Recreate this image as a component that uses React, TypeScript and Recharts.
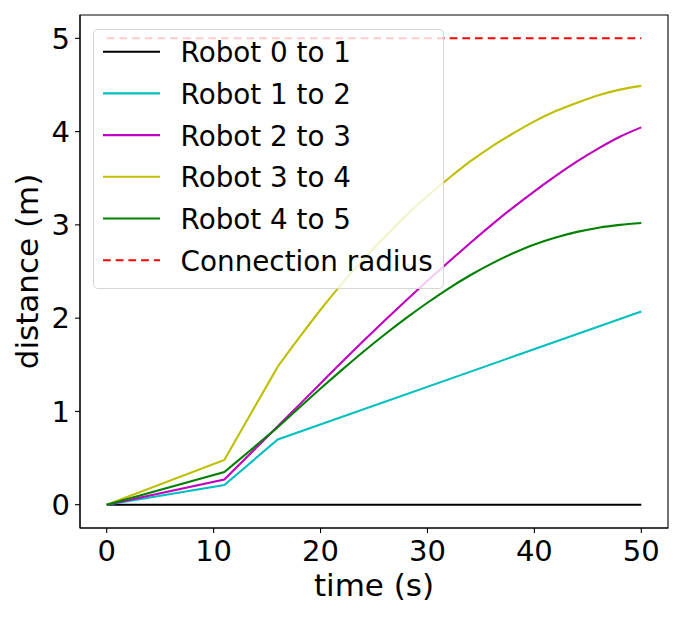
import { Legend, Line, LineChart, ReferenceArea, XAxis, YAxis } from "recharts";

// matplotlib single-letter colours: k, c, m, y, g, r
const FONT = "DejaVu Sans";

// straight ramp up to t=16, then a smooth curve out to t=50
const TIME_RAMP = [0, 11, 16];
const TIME_CURVE = [16, 18, 20, 22, 24, 26, 28, 30, 32, 34, 36, 38, 40, 42, 44, 46, 48, 50];

const DIST_2_3_RAMP = [0, 0.27, 0.84];
const DIST_2_3_CURVE = [0.84, 1.07, 1.3, 1.53, 1.755, 1.975, 2.19, 2.4, 2.605, 2.805, 3.0, 3.185, 3.36, 3.525, 3.68, 3.82, 3.945, 4.045];
const DIST_3_4_RAMP = [0, 0.48, 1.48];
const DIST_3_4_CURVE = [1.48, 1.79, 2.09, 2.37, 2.63, 2.87, 3.1, 3.31, 3.5, 3.68, 3.84, 3.98, 4.11, 4.22, 4.31, 4.39, 4.45, 4.49];
const DIST_4_5_RAMP = [0, 0.35, 0.83];
const DIST_4_5_CURVE = [0.83, 1.04, 1.245, 1.445, 1.64, 1.825, 2.0, 2.165, 2.32, 2.46, 2.585, 2.695, 2.79, 2.865, 2.925, 2.97, 3.0, 3.02];

const TIME_1_2 = [0, 11, 16, 50];
const DIST_1_2 = [0, 0.21, 0.7, 2.07];

const TIME_ENDS = [0, 50];
const DIST_0_1 = [0, 0];
const RADIUS = [5, 5];

const X_TICKS = [0, 10, 20, 30, 40, 50];
const Y_TICKS = [0, 1, 2, 3, 4, 5];

const DASH = "7.7 5";

type Part = { time: number[]; dist: number[]; smooth?: boolean };
type Series = { name: string; color: string; parts: Part[]; dashed?: boolean };

const SERIES: Series[] = [
  { name: "Robot 0 to 1", color: "#000000", parts: [{ time: TIME_ENDS, dist: DIST_0_1 }] },
  { name: "Robot 1 to 2", color: "#00bfbf", parts: [{ time: TIME_1_2, dist: DIST_1_2 }] },
  {
    name: "Robot 2 to 3",
    color: "#bf00bf",
    parts: [
      { time: TIME_RAMP, dist: DIST_2_3_RAMP },
      { time: TIME_CURVE, dist: DIST_2_3_CURVE, smooth: true },
    ],
  },
  {
    name: "Robot 3 to 4",
    color: "#bfbf00",
    parts: [
      { time: TIME_RAMP, dist: DIST_3_4_RAMP },
      { time: TIME_CURVE, dist: DIST_3_4_CURVE, smooth: true },
    ],
  },
  {
    name: "Robot 4 to 5",
    color: "#008000",
    parts: [
      { time: TIME_RAMP, dist: DIST_4_5_RAMP },
      { time: TIME_CURVE, dist: DIST_4_5_CURVE, smooth: true },
    ],
  },
  { name: "Connection radius", color: "#ff0000", parts: [{ time: TIME_ENDS, dist: RADIUS }], dashed: true },
];

const toRows = (p: Part) => p.time.map((t, i) => ({ t, d: p.dist[i] }));

function LegendBox() {
  return (
    <div
      style={{
        width: 351,
        height: 260,
        boxSizing: "border-box",
        border: "1px solid rgba(204,204,204,0.8)",
        borderRadius: 5,
        background: "rgba(255,255,255,0.8)",
        position: "relative",
      }}
    >
      <svg width={351} height={260} style={{ position: "absolute", left: -1, top: -1 }}>
        {SERIES.map((s, i) => {
          const y = 22.7 + i * 41.7;
          return (
            <g key={s.name}>
              <line
                x1={10}
                x2={67}
                y1={y}
                y2={y}
                stroke={s.color}
                strokeWidth={2.1}
                strokeDasharray={s.dashed ? DASH : undefined}
              />
              <text x={87.6} y={y + 10.5} fontSize={27.8} fontFamily={FONT} fill="#000">
                {s.name}
              </text>
            </g>
          );
        })}
      </svg>
    </div>
  );
}

const axisStyle = { stroke: "#000", strokeWidth: 1.1 };
const tickStyle = { fill: "#000", fontSize: 29, fontFamily: FONT };

export default function App() {
  return (
    <div style={{ position: "absolute", left: 0, top: 0, width: 683, height: 617, background: "#fff" }}>
      <LineChart width={683} height={617} margin={{ top: 15, right: 15, bottom: 0, left: 0 }}>
        <XAxis
          type="number"
          dataKey="t"
          domain={[-2.5, 52.5]}
          ticks={X_TICKS}
          allowDataOverflow
          height={89}
          tickSize={5}
          tickMargin={7}
          axisLine={axisStyle}
          tickLine={axisStyle}
          tick={tickStyle}
          label={(props: any) => {
            const vb = props.viewBox;
            return (
              <text x={vb.x + vb.width / 2} y={vb.y + 68} textAnchor="middle" fontSize={31} fontFamily={FONT} fill="#000">
                time (s)
              </text>
            );
          }}
        />
        <YAxis
          type="number"
          dataKey="d"
          domain={[-0.25, 5.25]}
          ticks={Y_TICKS}
          allowDataOverflow
          width={80}
          tickSize={5}
          tickMargin={5}
          axisLine={axisStyle}
          tickLine={axisStyle}
          tick={tickStyle}
          label={(props: any) => {
            const vb = props.viewBox;
            const cx = vb.x + 38;
            const cy = vb.y + vb.height / 2;
            return (
              <text
                x={cx}
                y={cy}
                transform={`rotate(-90, ${cx}, ${cy})`}
                textAnchor="middle"
                fontSize={31}
                fontFamily={FONT}
                fill="#000"
              >
                distance (m)
              </text>
            );
          }}
        />
        {SERIES.flatMap((s) =>
          s.parts.map((p, j) => (
            <Line
              key={`${s.name}-${j}`}
              data={toRows(p)}
              dataKey="d"
              name={s.name}
              type={p.smooth ? "monotone" : "linear"}
              stroke={s.color}
              strokeWidth={2.1}
              strokeDasharray={s.dashed ? DASH : undefined}
              dot={false}
              activeDot={false}
              isAnimationActive={false}
            />
          ))
        )}
        <ReferenceArea
          x1={-2.5}
          x2={52.5}
          y1={-0.25}
          y2={5.25}
          fill="none"
          stroke="#000"
          strokeWidth={1.1}
          ifOverflow="visible"
        />
        <Legend
          layout="vertical"
          align="center"
          verticalAlign="middle"
          wrapperStyle={{ left: 93, top: 29, width: 351, height: 260 }}
          content={() => <LegendBox />}
        />
      </LineChart>
    </div>
  );
}
